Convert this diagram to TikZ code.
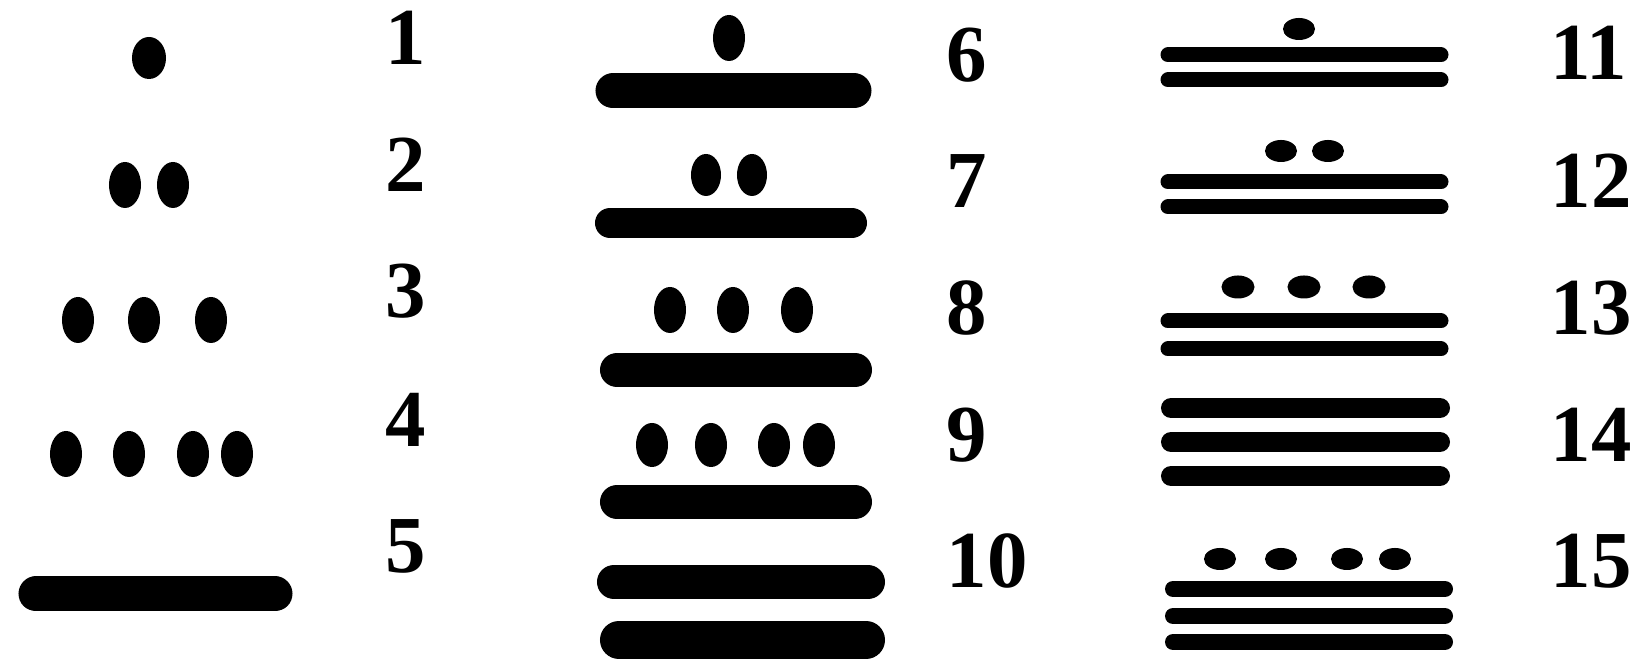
\documentclass[tikz,border=0pt]{standalone}
\usepackage{fontspec}
\setmainfont{Liberation Serif}
\usetikzlibrary{calc}

\tikzset{
  num/.style={anchor=base west, inner sep=0pt, font=\fontsize{23}{23}\selectfont\bfseries},
  bar/.style={line width=#1, line cap=round},
  bar/.default=0.35cm
}

\begin{document}
\begin{tikzpicture}[x=0.01cm, y=-0.01cm]
\useasboundingbox (0,0) rectangle (1650,659);

% column of 1 to 5
\fill (149,58) ellipse (0.17cm and 0.21cm);
\foreach \x in {125,173} \fill (\x,185) ellipse (0.16cm and 0.23cm);
\foreach \x in {78,144,211} \fill (\x,320) ellipse (0.16cm and 0.23cm);
\foreach \x in {66,129,193,237} \fill (\x,454) ellipse (0.16cm and 0.23cm);
\draw[bar] (36,594) -- (275,594);

\node[num] (n1) at (385,65) {1};
\node[num] (n2) at (385,192) {2};
\node[num] (n3) at (385,318) {3};
\node[num] (n4) at (385,447) {4};
\node[num] (n5) at (385,573) {5};

% column of 6 to 10
\fill (729,38) ellipse (0.16cm and 0.23cm);
\draw[bar] (613,91) -- (854,91);

\foreach \x in {706,752} \fill (\x,175) ellipse (0.15cm and 0.21cm);
\draw[bar=0.30cm] (610,223) -- (852,223);

\foreach \x in {670,733,797} \fill (\x,310) ellipse (0.16cm and 0.23cm);
\draw[bar=0.34cm] (617,370) -- (855,370);

\foreach \x in {652,711,774,819} \fill (\x,445) ellipse (0.16cm and 0.22cm);
\draw[bar=0.34cm] (617,502) -- (855,502);

\draw[bar=0.34cm] (614,582) -- (868,582);
\draw[bar=0.38cm] (619,640) -- (866,640);

\node[num] (n6) at (946,82) {6};
\node[num] (n7) at (946,208) {7};
\node[num] (n8) at (946,335) {8};
\node[num] (n9) at (946,462) {9};
\node[num] (n10) at (946,588) {10};

% column of 11 to 15
\fill (1299,29) ellipse (0.16cm and 0.11cm);
\foreach \y in {55,80} \draw[bar=0.15cm] (1168,\y) -- (1441,\y);

\foreach \x in {1281,1328} \fill (\x,151) ellipse (0.16cm and 0.11cm);
\foreach \y in {182,207} \draw[bar=0.15cm] (1168,\y) -- (1441,\y);

\foreach \x in {1238,1304,1369} \fill (\x,287) ellipse (0.165cm and 0.115cm);
\foreach \y in {321,349} \draw[bar=0.15cm] (1168,\y) -- (1441,\y);

\foreach \y in {408,442,476} \draw[bar=0.20cm] (1171,\y) -- (1440,\y);

\foreach \x in {1220,1281,1347,1395} \fill (\x,559) ellipse (0.16cm and 0.11cm);
\foreach \y in {589,616,642} \draw[bar=0.16cm] (1173,\y) -- (1445,\y);

\node[num] (n11) at (1550,80) {11};
\node[num] (n12) at (1550,208) {12};
\node[num] (n13) at (1550,335) {13};
\node[num] (n14) at (1550,462) {14};
\node[num] (n15) at (1550,588) {15};
\end{tikzpicture}
\end{document}
